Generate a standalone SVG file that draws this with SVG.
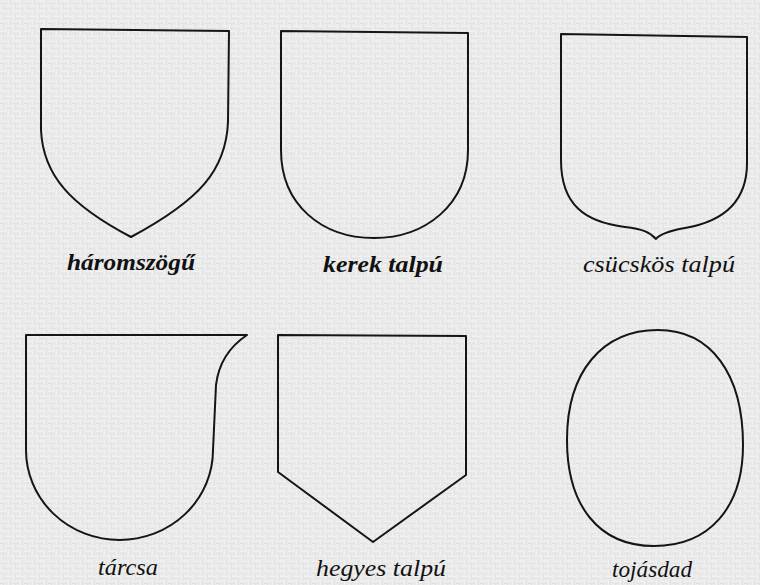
<svg xmlns="http://www.w3.org/2000/svg" width="760" height="585" viewBox="0 0 760 585">
<defs>
<pattern id="tex" width="12" height="10" patternUnits="userSpaceOnUse">
<rect width="12" height="10" fill="#ebebeb"/>
<path d="M0,2 H7 M3,7 H12 M9,0 V5 M2,4 V9" stroke="#f8f8f8" stroke-width="1.2"/>
<path d="M0,3 H7 M3,8 H12 M10,0 V5 M3,4 V9" stroke="#d9d9d9" stroke-width="0.8"/>
</pattern>
<style>
.s{fill:none;stroke:#151515;stroke-width:2;stroke-linejoin:round}
.t{font-family:"Liberation Serif","DejaVu Serif",serif;font-style:italic;fill:#111;text-anchor:middle}
.b{font-size:23px;font-weight:bold}
.n{font-size:23px}
</style>
</defs>
<rect width="760" height="585" fill="url(#tex)"/>
<g id="haromszogu">
<path class="s" d="M41,29 L229,31 L228,122 C226,170 200,200 131,237 C70,205 43,175 41,130 Z"/>
<text class="t b" x="131" y="270" textLength="128" lengthAdjust="spacingAndGlyphs">háromszögű</text>
</g>
<g id="kerek-talpu">
<path class="s" d="M281,31 L468,33 L468,150 C468,205 425,238 374,238 C322,238 281,205 281,150 Z"/>
<text class="t b" x="383" y="272" textLength="120" lengthAdjust="spacingAndGlyphs">kerek talpú</text>
</g>
<g id="csucskos-talpu">
<path class="s" d="M561,34 L747,37 L747,163 C747,205 720,222 685,228 C668,231 660,234 656,239 C650,232 642,229 625,227 C585,222 561,205 561,160 Z"/>
<text class="t n" x="659" y="272" textLength="152" lengthAdjust="spacingAndGlyphs">csücskös talpú</text>
</g>
<g id="tarcsa">
<path class="s" d="M26,335 L247,335 C232,345 219,360 216,385 L213,450 A93.5,90 0 0 1 119.5,540 A93.5,90 0 0 1 26,450 Z"/>
<text class="t n" x="128" y="575" textLength="60" lengthAdjust="spacingAndGlyphs">tárcsa</text>
</g>
<g id="hegyes-talpu">
<path class="s" d="M278,335 L466,336 L466,475 L373,542 L278,472 Z"/>
<text class="t n" x="381" y="576" textLength="130" lengthAdjust="spacingAndGlyphs">hegyes talpú</text>
</g>
<g id="tojasdad">
<path class="s" d="M658,330 C711,330 743,374 743,445 C743,508 709,546 654,546 C599,546 567,506 567,440 C567,372 602,330 658,330 Z"/>
<text class="t n" x="652" y="577" textLength="80" lengthAdjust="spacingAndGlyphs">tojásdad</text>
</g>
<g id="connectors"/>
</svg>
